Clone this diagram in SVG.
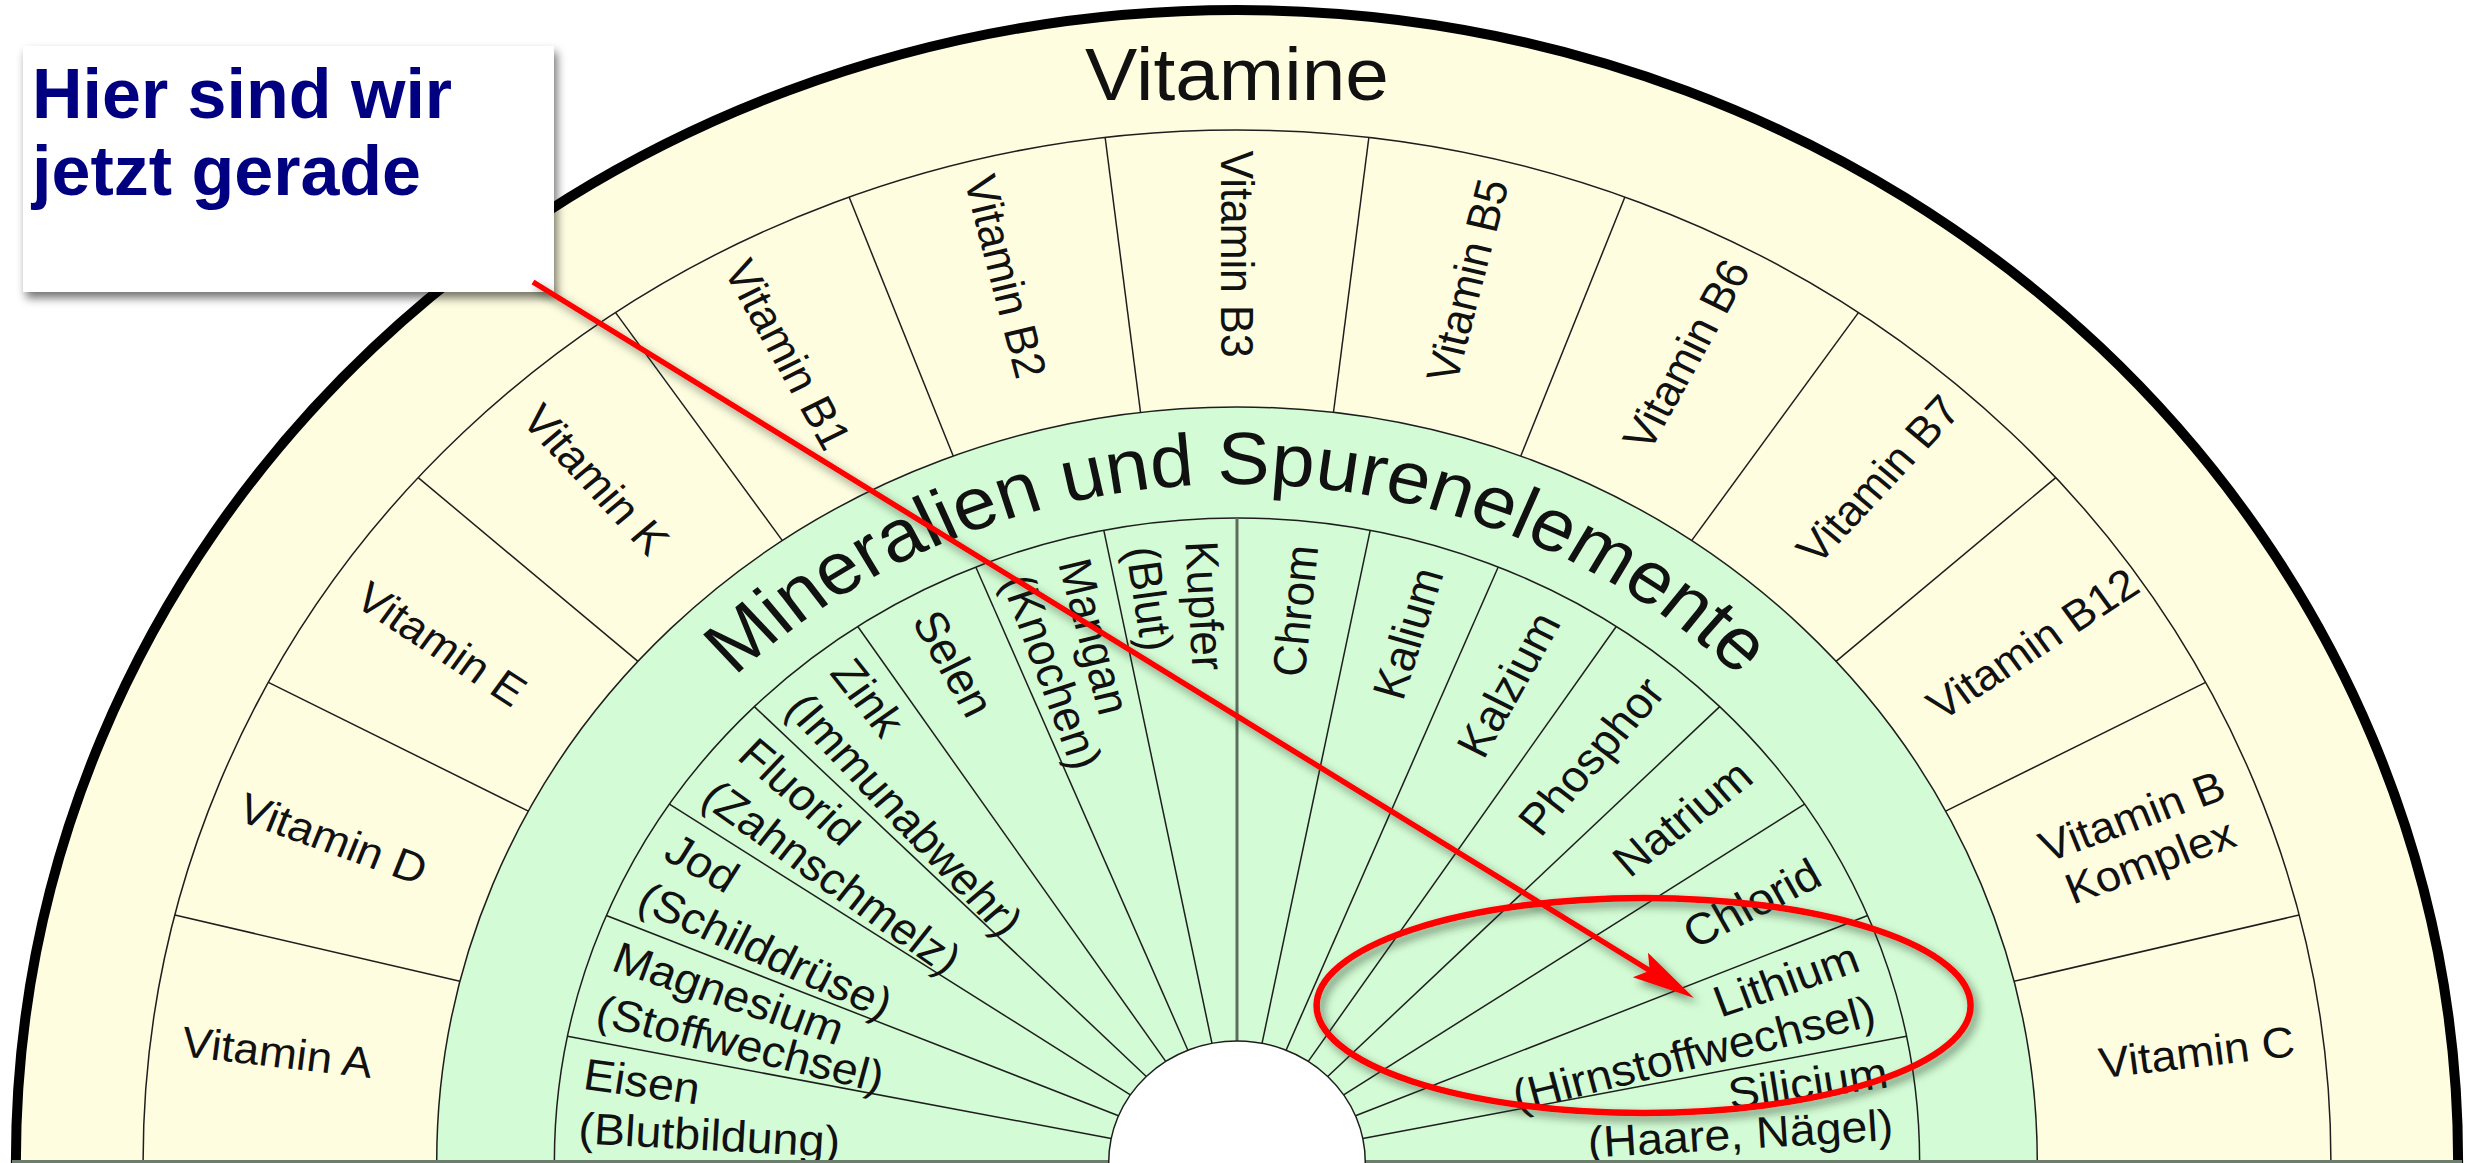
<svg xmlns="http://www.w3.org/2000/svg" width="2471" height="1163" viewBox="0 0 2471 1163">
<defs>
<style>
.ln{stroke:#1e1e1e;stroke-width:1.5;vector-effect:non-scaling-stroke}
.t{font-family:"Liberation Sans",Arial,sans-serif;fill:#111}
.v{font-size:43px;text-anchor:middle}
.ml{font-size:44px;text-anchor:start}
.mr{font-size:44px;text-anchor:end}
.ttl{font-size:74px;text-anchor:middle}
.note{font-family:"Liberation Sans",Arial,sans-serif;font-weight:bold;font-size:70px;fill:#000080}
</style>
<filter id="boxsh" x="-10%" y="-10%" width="125%" height="130%"><feDropShadow dx="3" dy="6" stdDeviation="5" flood-color="#000" flood-opacity="0.55"/></filter>
<filter id="redsh" x="-10%" y="-20%" width="125%" height="150%"><feDropShadow dx="4" dy="5" stdDeviation="4" flood-color="#203820" flood-opacity="0.55"/></filter>
<path id="arcM" d="M -678 0 A 678 678 0 0 1 678 0"/>
</defs>
<rect width="2471" height="1163" fill="#fff"/>
<g id="chart" transform="translate(1237,1162) scale(1.06,1)">
  <g id="rings">
    <circle r="1152" fill="#FFFDE0" stroke="#000" stroke-width="10" style="vector-effect:non-scaling-stroke"/>
    <circle class="ln" r="1032" fill="none"/>
    <circle class="ln" r="755" fill="#D3FBD5"/>
    <circle class="ln" r="644" fill="none"/>
  </g>
  <g id="vitamin-spokes">
    <line class="ln" x1="-755" x2="-1032" transform="rotate(13.846)"/>
    <line class="ln" x1="-755" x2="-1032" transform="rotate(27.692)"/>
    <line class="ln" x1="-755" x2="-1032" transform="rotate(41.538)"/>
    <line class="ln" x1="-755" x2="-1032" transform="rotate(55.385)"/>
    <line class="ln" x1="-755" x2="-1032" transform="rotate(69.231)"/>
    <line class="ln" x1="-755" x2="-1032" transform="rotate(83.077)"/>
    <line class="ln" x1="-755" x2="-1032" transform="rotate(96.923)"/>
    <line class="ln" x1="-755" x2="-1032" transform="rotate(110.769)"/>
    <line class="ln" x1="-755" x2="-1032" transform="rotate(124.615)"/>
    <line class="ln" x1="-755" x2="-1032" transform="rotate(138.462)"/>
    <line class="ln" x1="-755" x2="-1032" transform="rotate(152.308)"/>
    <line class="ln" x1="-755" x2="-1032" transform="rotate(166.154)"/>
  </g>
  <g id="mineral-spokes">
    <line class="ln" x1="-121" x2="-644" transform="rotate(11.25)"/>
    <line class="ln" x1="-121" x2="-644" transform="rotate(22.5)"/>
    <line class="ln" x1="-121" x2="-644" transform="rotate(33.75)"/>
    <line class="ln" x1="-121" x2="-644" transform="rotate(45)"/>
    <line class="ln" x1="-121" x2="-644" transform="rotate(56.25)"/>
    <line class="ln" x1="-121" x2="-644" transform="rotate(67.5)"/>
    <line class="ln" x1="-121" x2="-644" transform="rotate(78.75)"/>
    <line x1="0" y1="-121" x2="0" y2="-644" stroke="#5d6d5d" stroke-width="3" style="vector-effect:non-scaling-stroke"/>
    <line class="ln" x1="-121" x2="-644" transform="rotate(101.25)"/>
    <line class="ln" x1="-121" x2="-644" transform="rotate(112.5)"/>
    <line class="ln" x1="-121" x2="-644" transform="rotate(123.75)"/>
    <line class="ln" x1="-121" x2="-644" transform="rotate(135)"/>
    <line class="ln" x1="-121" x2="-644" transform="rotate(146.25)"/>
    <line class="ln" x1="-121" x2="-644" transform="rotate(157.5)"/>
    <line class="ln" x1="-121" x2="-644" transform="rotate(168.75)"/>
  </g>
  <circle id="hole" class="ln" r="121" fill="#fff"/>
  <g id="titles">
    <text class="t ttl" x="0" y="-1062">Vitamine</text>
    <text class="t ttl"><textPath href="#arcM" startOffset="50%">Mineralien und Spurenelemente</textPath></text>
  </g>
  <g id="vitamins">
    <g id="vit-a"><text class="t v" transform="rotate(6.923) translate(-912,0)" y="15">Vitamin A</text></g>
    <g id="vit-d"><text class="t v" transform="rotate(20.769) translate(-912,0)" y="15">Vitamin D</text></g>
    <g id="vit-e"><text class="t v" transform="rotate(34.615) translate(-912,0)" y="15">Vitamin E</text></g>
    <g id="vit-k"><text class="t v" transform="rotate(48.462) translate(-912,0)" y="15">Vitamin K</text></g>
    <g id="vit-b1"><text class="t v" transform="rotate(62.308) translate(-912,0)" y="15">Vitamin B1</text></g>
    <g id="vit-b2"><text class="t v" transform="rotate(76.154) translate(-912,0)" y="15">Vitamin B2</text></g>
    <g id="vit-b3"><text class="t v" transform="rotate(90) translate(-908,0)" y="15">Vitamin B3</text></g>
    <g id="vit-b5"><text class="t v" transform="rotate(-76.154) translate(908,0)" y="15">Vitamin B5</text></g>
    <g id="vit-b6"><text class="t v" transform="rotate(-62.308) translate(912,0)" y="15">Vitamin B6</text></g>
    <g id="vit-b7"><text class="t v" transform="rotate(-48.462) translate(912,0)" y="15">Vitamin B7</text></g>
    <g id="vit-b12"><text class="t v" transform="rotate(-34.615) translate(912,0)" y="15">Vitamin B12</text></g>
    <g id="vit-bk"><text class="t v" transform="rotate(-20.769) translate(912,0)"><tspan x="0" y="-9">Vitamin B</tspan><tspan x="0" y="39">Komplex</tspan></text></g>
    <g id="vit-c"><text class="t v" transform="rotate(-6.923) translate(912,0)" y="15">Vitamin C</text></g>
  </g>
  <g id="minerals">
    <g id="min-eisen">
      <text class="t ml" transform="rotate(8.225) translate(-622,0)" y="16">Eisen</text>
      <text class="t ml" transform="rotate(3.2) translate(-622,0)" y="16">(Blutbildung)</text>
    </g>
    <g id="min-magnesium">
      <text class="t ml" transform="rotate(19.475) translate(-622,0)" y="16">Magnesium</text>
      <text class="t ml" transform="rotate(14.275) translate(-622,0)" y="16">(Stoffwechsel)</text>
    </g>
    <g id="min-jod">
      <text class="t ml" transform="rotate(30.725) translate(-622,0)" y="16">Jod</text>
      <text class="t ml" transform="rotate(25.525) translate(-622,0)" y="16">(Schilddrüse)</text>
    </g>
    <g id="min-fluorid">
      <text class="t ml" transform="rotate(41.975) translate(-622,0)" y="16">Fluorid</text>
      <text class="t ml" transform="rotate(36.775) translate(-622,0)" y="16">(Zahnschmelz)</text>
    </g>
    <g id="min-zink">
      <text class="t ml" transform="rotate(53.225) translate(-622,0)" y="16">Zink</text>
      <text class="t ml" transform="rotate(48.025) translate(-622,0)" y="16">(Immunabwehr)</text>
    </g>
    <g id="min-selen"><text class="t ml" transform="rotate(61.875) translate(-622,0)" y="16">Selen</text></g>
    <g id="min-mangan">
      <text class="t ml" transform="rotate(75.725) translate(-622,0)" y="16">Mangan</text>
      <text class="t ml" transform="rotate(70.525) translate(-622,0)" y="16">(Knochen)</text>
    </g>
    <g id="min-kupfer">
      <text class="t ml" transform="rotate(86.975) translate(-622,0)" y="16">Kupfer</text>
      <text class="t ml" transform="rotate(81.775) translate(-622,0)" y="16">(Blut)</text>
    </g>
    <g id="min-chrom"><text class="t mr" transform="rotate(-84.375) translate(620,0)" y="16">Chrom</text></g>
    <g id="min-kalium"><text class="t mr" transform="rotate(-73.125) translate(620,0)" y="16">Kalium</text></g>
    <g id="min-kalzium"><text class="t mr" transform="rotate(-61.875) translate(620,0)" y="16">Kalzium</text></g>
    <g id="min-phosphor"><text class="t mr" transform="rotate(-50.625) translate(620,0)" y="16">Phosphor</text></g>
    <g id="min-natrium"><text class="t mr" transform="rotate(-39.375) translate(620,0)" y="16">Natrium</text></g>
    <g id="min-chlorid"><text class="t mr" transform="rotate(-28.125) translate(620,0)" y="16">Chlorid</text></g>
    <g id="min-lithium">
      <text class="t mr" transform="rotate(-19.475) translate(620,0)" y="16">Lithium</text>
      <text class="t mr" transform="rotate(-14.275) translate(620,0)" y="16">(Hirnstoffwechsel)</text>
    </g>
    <g id="min-silicium">
      <text class="t mr" transform="rotate(-8.4) translate(620,0)" y="16">Silicium</text>
      <text class="t mr" transform="rotate(-3.5) translate(620,0)" y="16">(Haare, Nägel)</text>
    </g>
  </g>
</g>
<g id="baseline">
  <line x1="12" y1="1161.5" x2="1108" y2="1161.5" stroke="#6d7d6d" stroke-width="3"/>
  <line x1="1366" y1="1161.5" x2="2462" y2="1161.5" stroke="#6d7d6d" stroke-width="3"/>
</g>
<g id="note">
  <rect x="23" y="46" width="531" height="246" fill="#fff" filter="url(#boxsh)"/>
  <text class="note" x="32" y="118">Hier sind wir</text>
  <text class="note" x="32" y="195">jetzt gerade</text>
</g>
<g id="connectors" filter="url(#redsh)">
  <line x1="533" y1="282" x2="1652" y2="972" stroke="#ff0000" stroke-width="5.5"/>
  <path d="M1694,998 L1632.8,977.3 L1649.7,970.7 L1648,952.7 Z" fill="#ff0000"/>
  <ellipse cx="1643.6" cy="1005.5" rx="327" ry="107.5" stroke="#ff0000" stroke-width="6.5" fill="none"/>
</g>
</svg>
